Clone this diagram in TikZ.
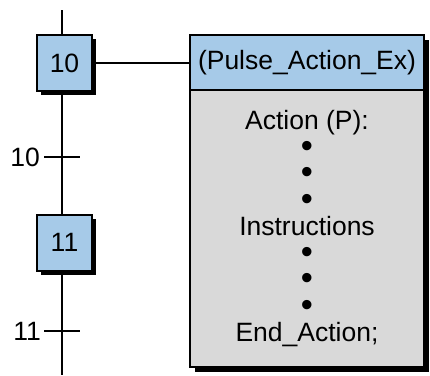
\documentclass[tikz,border=0pt]{standalone}
\usepackage{fontspec}
\usepackage{graphicx}
\setmainfont{Liberation Sans}
\usetikzlibrary{shadows}
\definecolor{stepblue}{RGB}{166,202,232}
\definecolor{bodygray}{RGB}{217,217,217}
\newcommand\mybul{\raisebox{-1.2pt}{\scalebox{1.3}{•}}}
\begin{document}
\begin{tikzpicture}[x=1pt,y=1pt,
  every node/.style={font=\fontsize{26.5}{26.5}\selectfont},
  shad/.style={drop shadow={shadow xshift=#1, shadow yshift=-#1, fill=black, opacity=1}},
  stepbox/.style={draw=black, line width=2pt, fill=stepblue, minimum width=55pt, minimum height=56pt, inner sep=0pt, shad=4pt},
  flow/.style={line width=2.7pt},
  link/.style={line width=2pt}
]
\useasboundingbox (0,0) rectangle (430,-375);
% main vertical line
\coordinate (top) at (62,-10);
\coordinate (bot) at (62,-375);
\draw[flow] (top) -- (bot);
% transitions
\coordinate (t10l) at (44,-157); \coordinate (t10r) at (80,-157);
\coordinate (t11l) at (44,-331); \coordinate (t11r) at (80,-331);
\draw[flow] (t10l) -- (t10r);
\draw[flow] (t11l) -- (t11r);
\node[anchor=east, inner sep=0pt] (l10) at (40,-157) {10};
\node[anchor=east, inner sep=0pt] (l11) at (41,-331) {11};
% steps
\node[stepbox] (s10) at (64.5,-63) {10};
\node[stepbox] (s11) at (64.5,-242.5) {11};
% action box
\node[draw=black, line width=2pt, fill=stepblue, minimum width=234pt, minimum height=55pt, inner sep=0pt, shad=5pt] (act) at (307,-62.5) {(Pulse\_Action\_Ex)};
\node[draw=black, line width=2pt, fill=bodygray, minimum width=234pt, minimum height=277pt, inner sep=0pt, align=center, shad=5pt] (body) at (307,-228.5)
  {Action (P):\\\mybul\\\mybul\\\mybul\\Instructions\\\mybul\\\mybul\\\mybul\\End\_Action;};
\draw[link] (s10.east) -- (act.west |- s10.east);
\end{tikzpicture}
\end{document}
